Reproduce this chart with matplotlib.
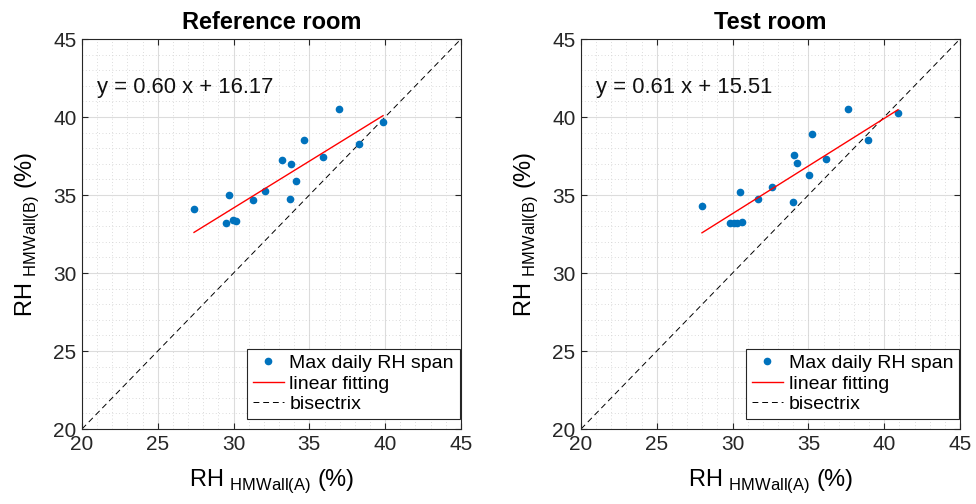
import numpy as np
import matplotlib.pyplot as plt
from matplotlib.ticker import MultipleLocator

plt.rcParams['font.family'] = ['Liberation Sans', 'DejaVu Sans']
plt.rcParams['mathtext.fontset'] = 'custom'
plt.rcParams['mathtext.rm'] = 'Liberation Sans'

# Reference room: max daily RH span, wall A vs wall B (%)
ref_x = [27.39, 29.68, 29.52, 29.98, 30.14, 31.28, 32.07, 33.21,
         33.70, 33.81, 34.10, 34.65, 35.88, 36.98, 38.26, 39.86]
ref_y = [34.08, 35.02, 33.21, 33.38, 33.33, 34.68, 35.26, 37.22,
         34.72, 36.99, 35.92, 38.53, 37.42, 40.53, 38.27, 39.66]
ref_fit = (0.60, 16.17)

# Test room
test_x = [27.98, 30.49, 29.83, 30.11, 30.31, 30.60, 31.70, 32.60, 33.98,
          34.07, 34.25, 35.04, 35.26, 36.14, 37.59, 38.93, 40.91]
test_y = [34.31, 35.21, 33.22, 33.21, 33.22, 33.27, 34.76, 35.49, 34.55,
          37.56, 37.03, 36.28, 38.89, 37.29, 40.53, 38.51, 40.24]
test_fit = (0.61, 15.51)

titles = ['Reference room', 'Test room']
axis_lim = [20, 45]

fig = plt.figure(figsize=(9.76, 5.04), dpi=100)
positions = [[0.0840, 0.1488, 0.3883, 0.7738],
             [0.5953, 0.1488, 0.3883, 0.7738]]

panels = [(ref_x, ref_y, ref_fit), (test_x, test_y, test_fit)]

for pos, title, (xs, ys, fit) in zip(positions, titles, panels):
    ax = fig.add_axes(pos)
    xs = np.array(xs)
    ys = np.array(ys)
    slope, intercept = fit

    ax.plot(xs, ys, 'o', color='#0072BD', markersize=4.5, linestyle='none',
            label='Max daily RH span', zorder=3)
    xfit = np.array([xs.min(), xs.max()])
    ax.plot(xfit, slope * xfit + intercept, color='#FF0000', linewidth=1.0,
            label='linear fitting', zorder=3)
    ax.plot(axis_lim, axis_lim, color='black', linestyle=(0, (6, 4)),
            linewidth=0.7, label='bisectrix', zorder=2)

    ax.text(21.0, 41.86, 'y = {:.2f} x + {:.2f}'.format(slope, intercept),
            fontsize=15.8, va='center', ha='left', color='#111111')

    ax.set_xlim(axis_lim)
    ax.set_ylim(axis_lim)
    ax.xaxis.set_major_locator(MultipleLocator(5))
    ax.yaxis.set_major_locator(MultipleLocator(5))
    ax.xaxis.set_minor_locator(MultipleLocator(1))
    ax.yaxis.set_minor_locator(MultipleLocator(1))
    ax.grid(which='major', color='#dcdcdc', linewidth=0.8)
    ax.grid(which='minor', color='#d0d0d0', linewidth=0.6, linestyle=(0, (1, 3)))
    ax.set_axisbelow(True)
    ax.tick_params(which='major', direction='in', length=4, top=True, right=True,
                   labelsize=15, colors='#262626', pad=4)
    ax.tick_params(which='minor', length=0)
    for sp in ax.spines.values():
        sp.set_color('#262626')
        sp.set_linewidth(0.8)

    ax.set_title(title, fontsize=17, fontweight='bold', pad=7)
    ax.set_xlabel(r'RH $_{\mathregular{HMWall(A)}}$ (%)', fontsize=17, labelpad=10)
    ax.set_ylabel(r'RH $_{\mathregular{HMWall(B)}}$ (%)', fontsize=17, labelpad=9)

    leg = ax.legend(loc='lower right', bbox_to_anchor=(0.997, 0.026),
                    fontsize=14, fancybox=False, framealpha=1,
                    edgecolor='#262626', borderpad=0.3, labelspacing=0.15,
                    handlelength=1.6, handletextpad=0.3, borderaxespad=0)
    leg.get_frame().set_linewidth(0.8)

fig.savefig('out.png', dpi=100)
